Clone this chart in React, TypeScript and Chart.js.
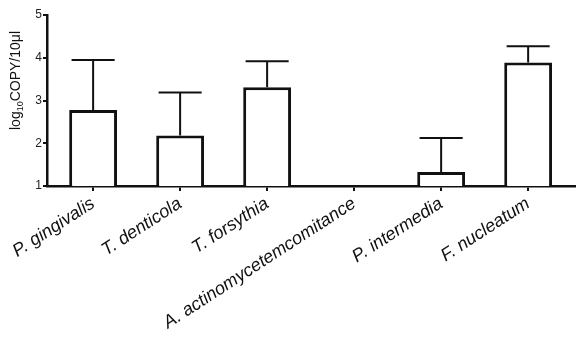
import React, { useEffect, useRef } from "react";
import { Chart, registerables } from "chart.js";

Chart.register(...registerables);

const categories = [
  "P. gingivalis",
  "T. denticola",
  "T. forsythia",
  "A. actinomycetemcomitance",
  "P. intermedia",
  "F. nucleatum",
];
const means: (number | null)[] = [2.78, 2.18, 3.31, null, 1.33, 3.89];
const errors: (number | null)[] = [1.17, 1.01, 0.61, null, 0.79, 0.38];
const yTicks = [1, 2, 3, 4, 5];

const FONT = '"Liberation Sans", Arial, sans-serif';

const errorBarPlugin = {
  id: "errorBars",
  afterDatasetsDraw(chart: any) {
    const ctx = chart.ctx;
    const meta = chart.getDatasetMeta(0);
    const y = chart.scales.y;
    ctx.save();
    ctx.strokeStyle = "#111";
    ctx.lineWidth = 2;
    meta.data.forEach((bar: any, i: number) => {
      const m = means[i];
      const e = errors[i];
      if (m == null || e == null) return;
      const props = bar.getProps(["x", "y", "width"], true);
      const yTop = y.getPixelForValue(m + e);
      const yBar = y.getPixelForValue(m);
      const cap = props.width * 0.9;
      ctx.beginPath();
      ctx.moveTo(props.x, yBar);
      ctx.lineTo(props.x, yTop);
      ctx.moveTo(props.x - cap / 2, yTop);
      ctx.lineTo(props.x + cap / 2, yTop);
      ctx.stroke();
    });
    ctx.restore();
  },
};

const yTitlePlugin = {
  id: "yTitle",
  afterDraw(chart: any) {
    const ctx = chart.ctx;
    ctx.save();
    ctx.translate(20, 130);
    ctx.rotate(-Math.PI / 2);
    ctx.fillStyle = "#111";
    ctx.textBaseline = "alphabetic";
    ctx.textAlign = "left";
    let x = 0;
    ctx.font = `14px ${FONT}`;
    ctx.fillText("log", x, 0);
    x += ctx.measureText("log").width;
    ctx.font = `9px ${FONT}`;
    ctx.fillText("10", x, 3);
    x += ctx.measureText("10").width;
    ctx.font = `14px ${FONT}`;
    ctx.fillText("COPY/10μl", x, 0);
    ctx.restore();
  },
};

export default function App() {
  const ref = useRef<HTMLCanvasElement | null>(null);
  useEffect(() => {
    if (!ref.current) return;
    const chart = new Chart(ref.current, {
      type: "bar",
      data: {
        datasets: [
          {
            data: categories.map((_, i) => ({ x: i, y: means[i] })) as any,
            backgroundColor: "#ffffff",
            borderColor: "#111",
            borderWidth: 3,
            barPercentage: 0.55,
            categoryPercentage: 1,
          },
        ],
      },
      options: {
        animation: false,
        responsive: true,
        maintainAspectRatio: false,
        layout: { padding: { top: 15, left: 0, right: 0, bottom: 0 } },
        plugins: { legend: { display: false }, tooltip: { enabled: false } },
        scales: {
          x: {
            type: "linear",
            offset: false,
            min: -0.53,
            max: 5.55,
            afterBuildTicks: (scale: any) => {
              scale.ticks = categories.map((_, i) => ({ value: i }));
            },
            afterFit: (scale: any) => {
              scale.height = 152;
              scale.paddingLeft = 0;
              scale.paddingRight = 0;
            },
            grid: {
              offset: false,
              drawOnChartArea: false,
              drawTicks: true,
              tickLength: 5,
              color: "#111",
              lineWidth: 2,
            },
            border: { color: "#111", width: 2.5 },
            ticks: {
              autoSkip: false,
              minRotation: 33,
              maxRotation: 33,
              padding: 2,
              color: "#111",
              font: { family: FONT, size: 18, style: "italic" },
              callback: (v: any) => categories[v as number] ?? "",
            },
          },
          y: {
            min: 1,
            max: 5,
            afterBuildTicks: (scale: any) => {
              scale.ticks = yTicks.map((v) => ({ value: v }));
            },
            afterFit: (scale: any) => {
              scale.width = 47;
            },
            grid: {
              drawOnChartArea: false,
              drawTicks: true,
              tickLength: 4,
              color: "#111",
              lineWidth: 2,
            },
            border: { color: "#111", width: 2.5 },
            ticks: {
              padding: 1,
              color: "#222",
              font: { family: FONT, size: 12 },
            },
          },
        },
      },
      plugins: [errorBarPlugin, yTitlePlugin],
    });
    return () => chart.destroy();
  }, []);
  return (
    <div style={{ position: "fixed", left: 0, top: 0, width: 576, height: 338, background: "#fff" }}>
      <canvas ref={ref} />
    </div>
  );
}
